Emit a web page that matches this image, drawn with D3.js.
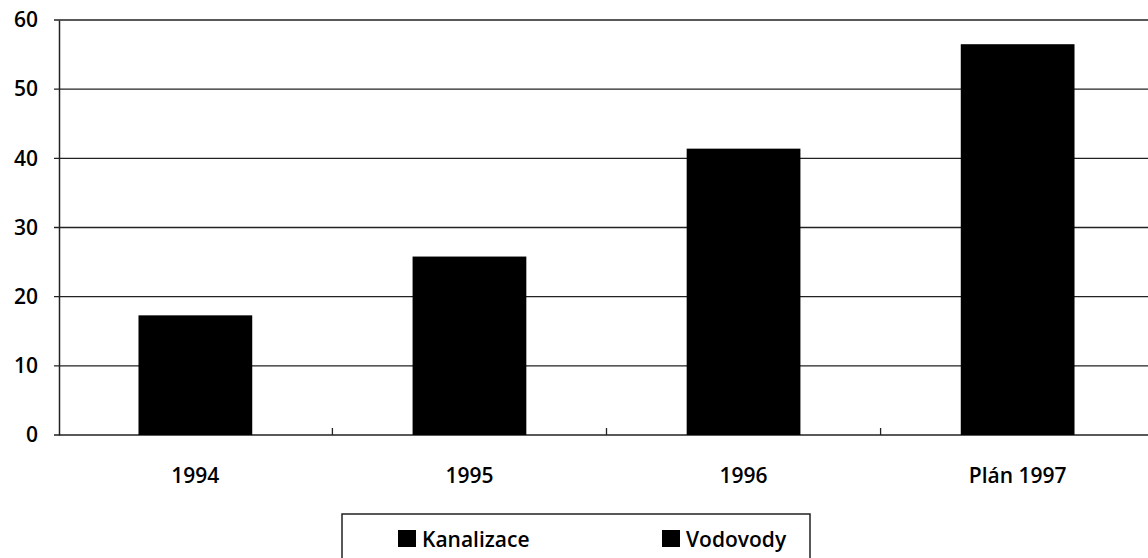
<!DOCTYPE html>
<html lang="cs">
<head>
  <meta charset="UTF-8">
  <title>Kanalizace a vodovody</title>
  <script src="https://d3js.org/d3.v7.min.js"></script>
  <style>
    body { margin: 0; background: #fff; }
    text { font-family: "Open Sans", "DejaVu Sans", sans-serif; fill: #000; }
  </style>
</head>
<body>
  <div class="canvas"></div>
  <script>
    // data
    const categories = ['1994', '1995', '1996', 'Plán 1997'];
    const values = [17.3, 25.8, 41.4, 56.5];
    const yTicks = [0, 10, 20, 30, 40, 50, 60];
    const legendLabels = ['Kanalizace', 'Vodovody'];

    const width = 1148;
    const height = 558;
    const [mt, mr, mb, ml] = [20, -6, 123, 59];

    const svg = d3.select('.canvas')
      .append('svg')
      .attr('width', width)
      .attr('height', height)

    const graph = svg.append('g')
      .attr('transform', `translate(${ml}, ${mt})`)

    const graphWidth = width - ml - mr;
    const graphHeight = height - mt - mb;

    const x = d3.scaleBand()
      .domain(categories)
      .range([0, graphWidth])
      .paddingInner(0.585)
      .paddingOuter(0.29)

    const y = d3.scaleLinear()
      .domain([0, 60])
      .range([graphHeight, 0])

    // grid lines
    graph.selectAll('line.grid')
      .data(yTicks)
      .enter()
      .append('line')
      .attr('class', 'grid')
      .attr('x1', -5)
      .attr('x2', graphWidth)
      .attr('y1', d => y(d))
      .attr('y2', d => y(d))
      .attr('stroke', '#222')
      .attr('stroke-width', 1.3)

    // y axis
    const yAxis = d3.axisLeft(y).tickValues(yTicks).tickSize(0).tickPadding(21)
    const yG = graph.append('g').call(yAxis)
    yG.select('.domain').attr('stroke', '#222').attr('stroke-width', 1.5)
    yG.selectAll('text')
      .style('font-size', '21px')
      .style('font-weight', '600')
      .style('font-family', '"Open Sans", sans-serif')

    // bars
    graph.selectAll('rect.bar')
      .data(values)
      .enter()
      .append('rect')
      .attr('class', 'bar')
      .attr('x', (d, i) => x(categories[i]))
      .attr('width', x.bandwidth())
      .attr('y', d => y(d))
      .attr('height', d => graphHeight - y(d))
      .attr('fill', '#000')

    // category separator ticks on the baseline
    const step = x.step();
    graph.selectAll('line.sep')
      .data(categories.slice(1))
      .enter()
      .append('line')
      .attr('class', 'sep')
      .attr('x1', d => x(d) - step * x.paddingInner() / 2)
      .attr('x2', d => x(d) - step * x.paddingInner() / 2)
      .attr('y1', graphHeight - 7)
      .attr('y2', graphHeight)
      .attr('stroke', '#222')
      .attr('stroke-width', 1.3)

    // category labels
    graph.selectAll('text.cat')
      .data(categories)
      .enter()
      .append('text')
      .attr('class', 'cat')
      .attr('x', d => x(d) + x.bandwidth() / 2)
      .attr('y', graphHeight + 48)
      .attr('text-anchor', 'middle')
      .style('font-size', '21px')
      .style('font-weight', '600')
      .text(d => d)

    // legend
    const legend = svg.append('g').attr('transform', 'translate(342, 514)')
    legend.append('path')
      .attr('d', 'M0,50 V0 H468 V50')
      .attr('fill', 'none')
      .attr('stroke', '#222')
      .attr('stroke-width', 1.5)

    const items = legend.selectAll('g.item')
      .data(legendLabels)
      .enter()
      .append('g')
      .attr('class', 'item')
      .attr('transform', (d, i) => `translate(${56 + i * 264}, 16)`)
    items.append('rect')
      .attr('width', 18)
      .attr('height', 17)
      .attr('fill', '#000')
    items.append('text')
      .attr('x', 24)
      .attr('y', 17)
      .style('font-size', '21px')
      .style('font-weight', '600')
      .text(d => d)
  </script>
</body>
</html>
